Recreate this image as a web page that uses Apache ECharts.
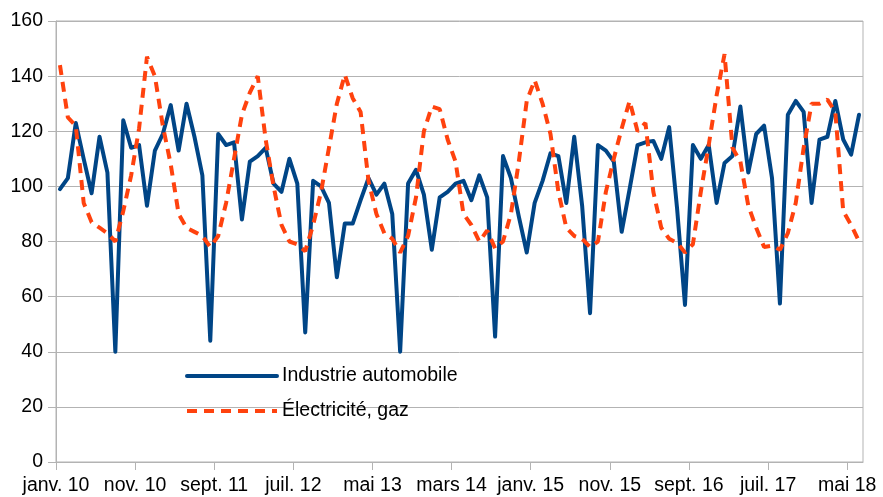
<!DOCTYPE html>
<html><head><meta charset="utf-8">
<script src="https://cdn.jsdelivr.net/npm/echarts@6/dist/echarts.min.js"></script>
<style>html,body{margin:0;padding:0;background:#fff}#c{width:883px;height:497px}</style>
</head><body><div id="c"></div>
<script>
const monthNames = ['janv.','févr.','mars','avr.','mai','juin','juil.','août','sept.','oct.','nov.','déc.'];
const startYear = 2010;
const tickLabels = ['janv. 10','nov. 10','sept. 11','juil. 12','mai 13','mars 14','janv. 15','nov. 15','sept. 16','juil. 17','mai 18'];
const yTicks = [0, 20, 40, 60, 80, 100, 120, 140, 160];

const auto = [
  99, 103, 123, 110, 97.5, 118, 105, 40, 124, 114, 115, 93,
  113, 119, 129.5, 113, 130, 118, 104, 44, 119, 115, 116, 88,
  109, 111, 114, 101, 98, 110, 101, 47, 102, 100, 94, 67,
  86.5, 86.5, 95, 103, 97, 101, 90, 40, 101, 106, 97, 77,
  96, 98, 101, 102, 95, 104, 96, 45.5, 111, 103, 89, 76,
  94, 102, 112, 111, 94, 118, 93, 54, 115, 113, 109, 83.5,
  99, 115, 116, 116.5, 110, 121.5, 92, 57, 115, 110, 115, 94,
  108.5, 111, 129, 105, 119, 122, 103, 57.5, 126, 131, 127, 94,
  117, 118, 131, 117, 111.5, 126
];
const elec = [
  144, 125, 122, 94, 87, 85, 83, 80, 91, 104, 121, 147,
  140, 122, 108, 90, 85, 83.5, 82, 78, 82, 94, 110, 126,
  134, 140, 117, 100, 86, 80, 79, 76.5, 86, 98, 114, 130,
  140.5, 132, 127, 102, 90, 83, 81, 76, 82, 96, 120, 129,
  128, 117, 109, 90, 86, 80, 84, 77.5, 80, 90, 109, 131,
  138.5, 130, 119, 98, 85, 82, 81, 78, 80, 98, 110, 121,
  131, 120, 123, 98, 85, 81, 79.5, 76, 79, 98, 115, 133,
  148, 114, 109, 93, 85, 78, 78.5, 77, 83, 94, 114, 130,
  130, 131.5, 127, 91, 86, 80
];

const categories = auto.map((_, i) =>
  monthNames[i % 12] + ' ' + String((startYear + Math.floor(i / 12)) % 100).padStart(2, '0'));

const FONT = 'Liberation Sans';
const GRID_W = 883 - 56 - 20;
const chart = echarts.init(document.getElementById('c'), null, {renderer: 'canvas'});
chart.setOption({
  animation: false,
  backgroundColor: '#ffffff',
  textStyle: {fontFamily: FONT},
  grid: [
    {left: 56, right: 20, top: 21, bottom: 35, show: true, borderColor: '#b3b3b3', borderWidth: 1, backgroundColor: 'transparent'},
    {left: 56, top: 21, bottom: 35, width: GRID_W * (tickLabels.length - 1) * 10 / categories.length}
  ],
  xAxis: [
    {type: 'category', gridIndex: 0, data: categories, boundaryGap: true,
     axisLine: {show: true, lineStyle: {color: '#b3b3b3', width: 1}},
     axisTick: {show: false}, axisLabel: {show: false}, splitLine: {show: false}},
    {type: 'value', gridIndex: 1, min: 0, max: (tickLabels.length - 1) * 10, interval: 10,
     axisLine: {show: false}, splitLine: {show: false},
     axisTick: {show: true, length: 8, lineStyle: {color: '#b3b3b3', width: 1}},
     axisLabel: {show: true, showMinLabel: true, showMaxLabel: true, hideOverlap: false,
       formatter: v => tickLabels[Math.round(v / 10)] || '', fontSize: 19.5, color: '#000', margin: 14, fontFamily: FONT}}
  ],
  yAxis: [
    {type: 'value', gridIndex: 0, min: yTicks[0], max: yTicks[yTicks.length - 1], interval: 20,
     axisLine: {show: true, lineStyle: {color: '#b3b3b3', width: 1}},
     axisTick: {show: true, length: 8, lineStyle: {color: '#b3b3b3', width: 1}},
     splitLine: {show: true, lineStyle: {color: '#b3b3b3', width: 1}},
     axisLabel: {fontSize: 19.5, color: '#000', margin: 13, fontFamily: FONT}},
    {type: 'value', gridIndex: 1, min: 0, max: 160, show: false}
  ],
  legend: {
    orient: 'vertical', left: 185, top: 366, padding: 0, itemWidth: 90, itemHeight: 20, itemGap: 15,
    selectedMode: false,
    textStyle: {fontSize: 19.5, color: '#000', fontFamily: FONT, lineHeight: 20},
    lineStyle: {width: 4},
    itemStyle: {opacity: 0},
    data: ['Industrie automobile', 'Électricité, gaz']
  },
  series: [
    {type: 'line', name: 'Industrie automobile', data: auto, xAxisIndex: 0, yAxisIndex: 0,
     symbol: 'none', smooth: false,
     lineStyle: {color: '#004586', width: 4, join: 'round', cap: 'round'},
     itemStyle: {color: '#004586'}},
    {type: 'line', name: 'Électricité, gaz', data: elec, xAxisIndex: 0, yAxisIndex: 0,
     symbol: 'none', smooth: false,
     lineStyle: {color: '#ff420e', width: 4, type: [10, 7], cap: 'butt'},
     itemStyle: {color: '#ff420e'}}
  ]
});
</script></body></html>
